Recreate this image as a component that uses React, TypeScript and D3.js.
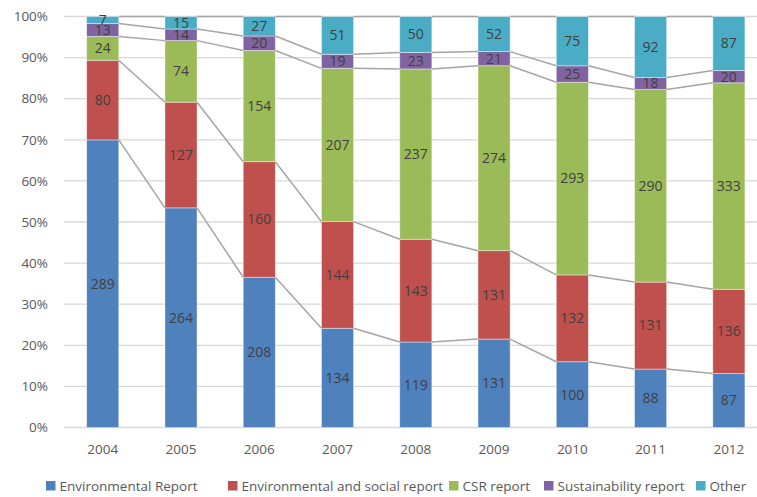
import React from "react";
import * as d3 from "d3";

const years = ["2004", "2005", "2006", "2007", "2008", "2009", "2010", "2011", "2012"];
const seriesNames = ["Environmental Report", "Environmental and social report", "CSR report", "Sustainability report", "Other"];
const seriesColors = ["#4F81BD", "#C0504D", "#9BBB59", "#8064A2", "#4BACC6"];
const envReport = [289, 264, 208, 134, 119, 131, 100, 88, 87];
const envSocial = [80, 127, 160, 144, 143, 131, 132, 131, 136];
const csrReport = [24, 74, 154, 207, 237, 274, 293, 290, 333];
const sustReport = [13, 14, 20, 19, 23, 21, 25, 18, 20];
const other = [7, 15, 27, 51, 50, 52, 75, 92, 87];
const yTicks = [0, 0.1, 0.2, 0.3, 0.4, 0.5, 0.6, 0.7, 0.8, 0.9, 1];
const legendX = [46, 228, 449, 544, 696];

const W = 757, H = 497;
const FONT = "'Open Sans', 'Noto Sans', sans-serif";

export default function App() {
  const series = [envReport, envSocial, csrReport, sustReport, other];
  const data = years.map((y, i) => {
    const row: any = { year: y };
    seriesNames.forEach((s, k) => (row[s] = series[k][i]));
    return row;
  });
  const stack = d3.stack<any>().keys(seriesNames).offset(d3.stackOffsetExpand);
  const layers = stack(data);

  const x = d3.scaleBand().domain(years).range([63.6, 768]).paddingInner(0.59).paddingOuter(0.295);
  const y = d3.scaleLinear().domain([0, 1]).range([427.5, 16.5]);
  const bw = x.bandwidth();

  return (
    <svg width={W} height={H} style={{ display: "block", position: "absolute", left: 0, top: 0 }} fontFamily={FONT}>
      <rect width={W} height={H} fill="#fff" />
      {yTicks.map((t) => (
        <g key={t}>
          <line x1={64} x2={W} y1={y(t)} y2={y(t)} stroke="#D9D9D9" strokeWidth={1.3} />
          <text x={48} y={y(t)} dy="0.35em" textAnchor="end" fontSize={13.5} fill="#595959">
            {d3.format(".0%")(t)}
          </text>
        </g>
      ))}
      {years.map((yr) => (
        <text key={yr} x={(x(yr) as number) + bw / 2} y={449} dy="0.35em" textAnchor="middle" fontSize={13.5} fill="#595959">
          {yr}
        </text>
      ))}
      {layers.map((layer, k) => (
        <g key={layer.key}>
          {layer.map((d, i) => (
            <rect
              key={i}
              x={x(years[i])}
              y={y(d[1])}
              width={bw}
              height={y(d[0]) - y(d[1])}
              fill={seriesColors[k]}
              stroke="#ffffff"
              strokeOpacity={0.5}
              strokeWidth={0.8}
            />
          ))}
        </g>
      ))}
      {layers.map((layer, k) => (
        <g key={"sl" + layer.key}>
          {layer.slice(0, -1).map((d, i) => {
            const n = layer[i + 1];
            return (
              <line
                key={i}
                x1={(x(years[i]) as number) + bw}
                y1={y(d[1])}
                x2={x(years[i + 1]) as number}
                y2={y(n[1])}
                stroke="#A5A5A5"
                strokeWidth={1.5}
              />
            );
          })}
        </g>
      ))}
      {layers.map((layer, k) => (
        <g key={"lb" + layer.key}>
          {layer.map((d, i) => (
            <text
              key={i}
              x={(x(years[i]) as number) + bw / 2}
              y={(y(d[0]) + y(d[1])) / 2}
              dy="0.35em"
              textAnchor="middle"
              fontSize={14}
              fill="#404040"
            >
              {series[k][i]}
            </text>
          ))}
        </g>
      ))}
      {seriesNames.map((s, k) => (
        <g key={s} transform={`translate(${legendX[k]},486)`}>
          <rect x={0} y={-5} width={9.5} height={9.5} fill={seriesColors[k]} />
          <text x={13.5} y={0} dy="0.35em" fontSize={13.5} fill="#595959">
            {s}
          </text>
        </g>
      ))}
    </svg>
  );
}
